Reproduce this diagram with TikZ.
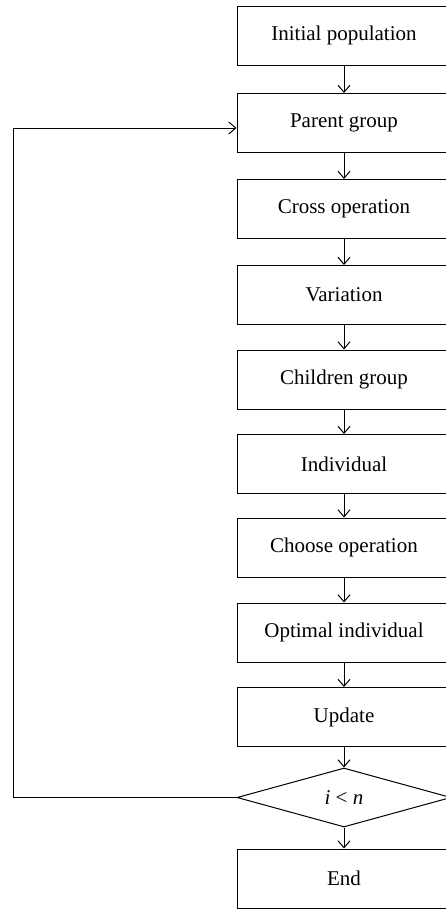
\documentclass[tikz,border=0pt]{standalone}
\usepackage{fontspec}
\setmainfont{Liberation Serif}
\usetikzlibrary{shapes.geometric,arrows.meta}
\begin{document}
\begin{tikzpicture}[x=1pt,y=-1pt,
  font=\fontsize{21}{24}\selectfont,
  stepbox/.style={draw=black,line width=1pt,minimum width=214pt,minimum height=59pt,inner sep=0pt},
  decision/.style={draw=black,line width=1pt,diamond,aspect=3.6,minimum width=214pt,minimum height=59pt,inner sep=0pt},
  conn/.style={line width=1pt,-{Straight Barb[length=7pt,width=12pt,line width=1pt]}}]
\useasboundingbox (0,0) rectangle (445,911);
\node[stepbox] (ini) at (344,35.5) {Initial population};
\node[stepbox] (par) at (344,123) {Parent group};
\node[stepbox] (cro) at (344,209) {Cross operation};
\node[stepbox] (var) at (344,295) {Variation};
\node[stepbox] (chi) at (344,379.5) {Children group};
\node[stepbox] (ind) at (344,464) {Individual};
\node[stepbox] (cho) at (344,547.5) {Choose operation};
\node[stepbox] (opt) at (344,632.5) {Optimal individual};
\node[stepbox] (upd) at (344,717) {Update};
\node[decision] (dec) at (344,797.5) {{\itshape i} {<} {\itshape n}};
\node[stepbox] (end) at (344,878.5) {End};
\draw[conn] (ini) -- (par);
\draw[conn] (par) -- (cro);
\draw[conn] (cro) -- (var);
\draw[conn] (var) -- (chi);
\draw[conn] (chi) -- (ind);
\draw[conn] (ind) -- (cho);
\draw[conn] (cho) -- (opt);
\draw[conn] (opt) -- (upd);
\draw[conn] (upd) -- (dec);
\draw[conn] (dec) -- (end);
\coordinate (fb) at (13,797.5);
\draw[conn] (dec.west) -- (fb) |- ([yshift=-5pt]par.west);
\end{tikzpicture}
\end{document}
